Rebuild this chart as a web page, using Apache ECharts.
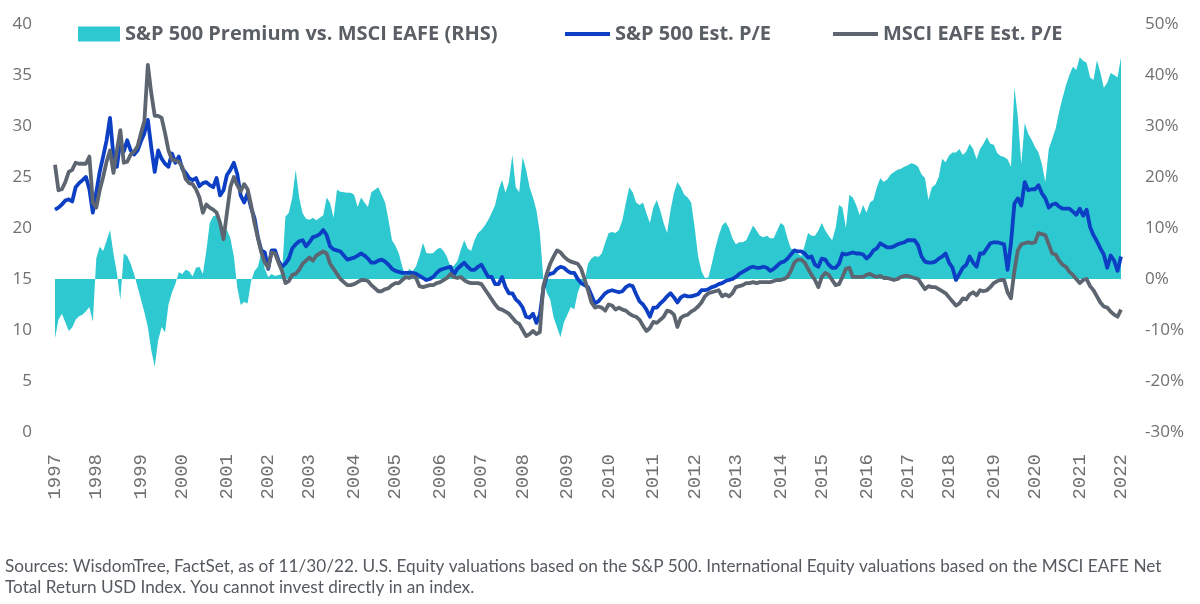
<!DOCTYPE html>
<html>
<head>
<meta charset="utf-8">
<script src="https://cdn.jsdelivr.net/npm/echarts@6/dist/echarts.min.js"></script>
<style>
html,body{margin:0;padding:0;background:#fff;}
#chart{width:1200px;height:604px;}
</style>
</head>
<body>
<div id="chart"></div>
<script>
// Tick labels for the x axis
const yearLabels = ['1997','1998','1999','2000','2001','2002','2003','2004','2005','2006','2007','2008','2009',
  '2010','2011','2012','2013','2014','2015','2016','2017','2018','2019','2020','2021','2022'];

// Monthly categories, Jan 1997 .. Nov 2022
const months = [];
for (let y = 1997; y <= 2022; y++) {
  for (let m = 1; m <= 12; m++) {
    if (y === 2022 && m > 11) break;
    months.push(y + '-' + String(m).padStart(2, '0'));
  }
}

// S&P 500 premium vs. MSCI EAFE (%), right axis
const premium = [
  -11.6,-8.0,-6.8,-8.5,-10.2,-9.5,-8.0,-7.3,-7.0,-6.3,-5.5,-8.4,
  4.0,6.3,5.5,7.5,9.6,5.0,1.2,-4.1,5.0,4.5,3.0,1.0,
  -1.5,-4.0,-6.5,-9.4,-14.0,-17.2,-12.0,-9.4,-10.5,-5.0,-2.7,-1.0,
  1.3,1.0,1.8,1.5,0.5,2.2,2.4,1.0,5.5,11.0,12.3,12.5,
  11.5,10.0,9.6,8.0,4.5,-1.6,-5.1,-4.5,-4.8,-0.5,1.5,2.4,
  5.1,2.0,0.4,1.0,0.6,0.8,1.0,12.2,13.0,16.0,21.4,16.0,
  12.9,11.8,11.6,12.0,11.5,12.0,12.5,16.0,14.9,12.0,17.5,17.1,
  17.0,16.9,16.9,16.5,14.1,16.0,15.0,14.1,17.0,17.5,18.0,16.5,
  15.0,11.5,7.6,6.5,5.0,2.4,0.5,2.0,1.5,2.5,4.5,7.1,
  5.1,5.0,5.1,5.8,6.2,5.5,4.3,2.4,2.6,3.5,5.7,7.6,
  6.0,5.5,7.6,9.0,9.6,10.5,11.6,13.0,14.5,17.5,19.4,16.9,
  19.0,24.3,18.0,17.0,23.9,21.4,18.0,16.0,13.5,9.0,0.2,-2.7,
  -4.0,-7.5,-9.5,-11.4,-8.5,-7.0,-5.5,-6.0,-2.7,-1.0,-0.5,3.0,
  4.0,4.5,4.3,5.0,7.1,9.0,9.2,9.0,9.6,11.5,14.9,18.0,
  17.0,15.0,14.5,15.0,12.9,11.0,14.0,15.5,13.5,11.0,9.0,13.5,
  16.9,19.0,18.0,16.5,16.0,15.0,10.2,4.5,1.5,0.2,0.3,3.0,
  6.0,8.5,10.5,11.2,10.0,8.0,6.8,7.2,7.2,7.6,9.0,10.5,
  9.5,8.5,8.2,8.5,8.0,8.0,9.5,11.0,10.5,8.0,6.0,5.7,
  5.0,4.5,6.5,9.0,8.5,8.5,9.5,11.0,9.5,8.5,7.6,10.0,
  14.5,14.0,10.0,16.5,16.0,14.5,12.5,14.5,13.0,15.0,15.5,18.0,
  19.8,19.0,19.5,20.5,21.0,21.4,21.6,22.0,22.3,22.7,22.5,22.0,
  20.5,19.8,15.5,18.0,18.5,20.0,23.6,22.9,24.2,24.8,24.8,25.5,
  24.3,25.0,26.5,25.5,23.5,25.5,26.5,27.8,26.5,26.3,24.7,24.1,
  23.9,23.5,22.0,37.6,31.8,22.5,30.6,28.5,27.3,25.9,24.8,22.5,
  19.0,25.5,27.5,29.5,32.8,35.5,38.0,40.0,41.6,41.0,43.5,42.8,
  42.4,39.5,39.0,42.9,40.5,37.5,38.5,40.4,40.0,39.5,43.5
];

// S&P 500 estimated P/E, left axis
const spxPE = [
  21.8,22.0,22.3,22.7,22.8,22.6,24.0,24.4,24.7,25.0,23.8,21.5,
  23.5,25.5,27.0,28.6,30.8,27.0,26.0,28.5,27.5,28.6,27.6,27.2,
  27.6,28.5,29.3,30.6,27.9,25.5,27.6,26.8,26.3,26.0,27.3,26.4,
  27.0,25.8,25.4,24.9,24.7,24.9,24.1,24.4,24.5,24.2,24.0,24.9,
  23.2,23.7,25.2,25.7,26.4,25.3,23.2,22.5,23.4,22.0,21.0,19.1,
  17.8,17.6,16.0,17.8,17.8,16.8,16.2,16.5,17.0,18.0,18.4,18.7,
  18.8,18.2,18.6,19.1,19.2,19.4,19.8,19.3,18.2,17.9,17.8,17.7,
  17.3,16.9,17.0,17.1,17.3,17.5,17.3,17.0,16.6,16.6,16.8,16.9,
  16.7,16.4,16.0,15.8,15.7,15.6,15.6,15.6,15.6,15.5,15.3,15.1,
  14.9,15.0,15.2,15.6,15.9,16.0,16.1,16.2,15.4,16.0,16.3,16.6,
  16.2,15.9,15.9,16.2,16.4,15.8,15.2,15.2,14.5,14.5,15.2,14.2,
  13.6,13.6,13.0,12.7,12.2,11.3,11.2,11.6,10.7,11.5,14.0,15.3,
  15.5,15.6,16.0,16.2,16.1,15.8,15.6,15.6,15.0,14.6,14.4,14.2,
  13.4,12.6,12.8,13.2,13.6,13.8,13.9,13.8,13.7,13.8,14.2,14.4,
  14.3,13.5,12.8,12.5,12.0,11.3,12.2,12.2,12.6,12.9,13.3,13.6,
  13.2,12.7,13.2,13.4,13.3,13.3,13.4,13.5,13.9,13.9,14.0,14.2,
  14.3,14.5,14.6,14.8,14.9,15.0,15.2,15.5,15.7,15.9,16.1,16.2,
  16.1,16.1,16.2,16.1,15.8,16.0,16.3,16.6,16.7,17.0,17.4,17.8,
  17.7,17.7,17.5,17.1,17.2,16.4,16.2,17.0,16.9,16.4,16.1,16.1,
  16.5,17.5,17.4,17.5,17.6,17.5,17.5,17.4,17.0,17.3,17.8,18.0,
  18.5,18.3,18.1,18.1,18.2,18.4,18.5,18.6,18.8,18.8,18.8,18.3,
  17.2,16.7,16.6,16.6,16.7,17.0,17.2,17.5,16.6,16.1,14.9,15.5,
  16.1,16.4,17.2,16.6,16.2,17.5,17.5,18.0,18.5,18.6,18.6,18.5,
  18.4,15.9,18.5,22.4,22.9,22.2,24.5,23.7,23.8,23.8,24.2,23.4,
  22.9,22.0,22.3,22.4,22.1,21.9,21.9,21.9,21.6,21.3,21.9,21.2,
  21.8,20.1,19.3,18.7,18.0,17.4,16.1,17.3,16.8,15.8,17.2
];

// MSCI EAFE estimated P/E, left axis
const eafePE = [
  26.2,23.7,23.8,24.5,25.5,25.7,26.4,26.3,26.3,26.3,27.0,22.5,
  22.0,23.7,25.0,26.5,27.6,25.4,27.6,29.6,26.4,26.5,27.2,27.5,
  28.0,29.3,30.5,36.0,33.2,31.0,31.0,30.8,29.3,27.6,26.7,26.6,
  26.5,26.0,24.8,24.4,24.3,23.8,23.0,21.5,22.3,22.0,21.8,21.5,
  20.5,18.9,21.5,24.0,25.0,24.2,23.6,24.3,23.8,22.3,20.5,19.0,
  17.6,16.6,16.1,17.6,17.5,16.6,15.8,14.6,14.8,15.4,15.5,15.9,
  16.5,16.8,17.1,16.8,17.3,17.5,17.7,17.5,16.5,16.0,15.5,15.0,
  14.7,14.4,14.4,14.5,14.7,14.9,14.9,14.8,14.4,14.1,13.8,13.8,
  14.0,14.1,14.4,14.6,14.6,14.9,15.2,15.1,15.3,15.1,14.3,14.2,
  14.3,14.4,14.4,14.6,14.7,14.9,15.1,15.5,15.2,15.1,15.2,14.9,
  14.7,14.6,14.6,14.6,14.5,14.0,13.5,13.0,12.5,12.1,12.0,11.8,
  11.6,11.2,10.8,10.6,10.0,9.4,9.6,9.9,9.6,9.8,14.3,15.5,
  16.5,17.2,17.8,17.6,17.2,16.9,16.7,16.6,16.5,16.0,15.0,13.9,
  12.7,12.2,12.3,12.2,11.9,12.5,12.4,12.0,12.2,12.0,11.9,11.6,
  11.4,11.3,11.0,10.4,9.9,10.2,10.8,10.7,11.0,11.3,11.9,11.8,
  11.5,10.3,11.2,11.4,11.5,11.8,12.0,12.3,12.7,13.3,13.6,13.7,
  13.8,13.9,13.3,13.5,13.3,13.6,14.2,14.3,14.4,14.6,14.6,14.7,
  14.6,14.7,14.7,14.7,14.7,14.8,14.9,14.9,15.0,15.2,15.8,16.6,
  16.9,16.9,16.6,16.0,15.4,14.9,14.2,15.2,15.6,15.4,14.9,14.4,
  14.5,15.2,16.0,16.1,15.2,15.2,15.2,15.2,15.4,15.5,15.3,15.2,
  15.3,15.1,15.1,15.0,14.9,15.0,15.2,15.3,15.3,15.2,15.1,15.0,
  14.5,14.0,14.3,14.2,14.2,14.0,13.8,13.6,13.2,12.8,12.4,12.6,
  13.1,13.0,13.5,13.7,13.4,13.9,13.8,13.9,14.2,14.6,14.8,14.9,
  14.9,13.7,13.1,15.8,17.8,18.4,18.5,18.6,18.5,18.6,19.5,19.4,
  19.3,18.4,17.5,17.4,16.8,16.4,16.2,15.7,15.4,15.0,14.6,14.9,
  15.0,14.3,13.9,13.3,12.7,12.3,12.2,11.8,11.5,11.3,12.0
];

const seriesNames = ['S&P 500 Premium vs. MSCI EAFE (RHS)', 'S&P 500 Est. P/E', 'MSCI EAFE Est. P/E'];
const colors = { teal: '#2ec8d0', blue: '#0c3fc4', gray: '#5d6570' };

// Year labels spread evenly over the category range
const labelIdx = yearLabels.map((_, k) => Math.round(k * (months.length - 1) / (yearLabels.length - 1)));

const legendText = { color: '#5a5f66', fontWeight: 'bold', fontSize: 20, fontFamily: "'Open Sans'", lineHeight: 22 };
const axisFont = { color: '#707070', fontSize: 17, fontFamily: "'Open Sans'" };

const chart = echarts.init(document.getElementById('chart'), null, { renderer: 'canvas' });
chart.setOption({
  animation: false,
  backgroundColor: '#ffffff',
  grid: { left: 55, right: 79, top: 24, bottom: 172, containLabel: false },
  legend: [
    { left: 78, top: 23, padding: 0, icon: 'rect', itemWidth: 42, itemHeight: 15, data: [seriesNames[0]], textStyle: legendText, selectedMode: false },
    { left: 565, top: 23, padding: 0, icon: 'rect', itemWidth: 45, itemHeight: 4, data: [seriesNames[1]], textStyle: legendText, selectedMode: false },
    { left: 833, top: 23, padding: 0, icon: 'rect', itemWidth: 45, itemHeight: 4, data: [seriesNames[2]], textStyle: legendText, selectedMode: false }
  ],
  xAxis: {
    type: 'category',
    data: months,
    boundaryGap: false,
    axisLine: { show: false },
    axisTick: { show: false },
    splitLine: { show: false },
    axisLabel: {
      rotate: 90,
      margin: 22,
      interval: (idx) => labelIdx.indexOf(idx) !== -1,
      formatter: (val, idx) => yearLabels[labelIdx.indexOf(idx)],
      color: '#707070',
      fontSize: 19,
      fontFamily: "'Liberation Mono', 'DejaVu Sans Mono', monospace"
    }
  },
  yAxis: [
    {
      type: 'value', min: 0, max: 40, interval: 5, position: 'left',
      axisLine: { show: false }, axisTick: { show: false }, splitLine: { show: false },
      axisLabel: Object.assign({ margin: 23 }, axisFont)
    },
    {
      type: 'value', min: -30, max: 50, interval: 10, position: 'right',
      axisLine: { show: false }, axisTick: { show: false }, splitLine: { show: false },
      axisLabel: Object.assign({ margin: 24, formatter: '{value}%' }, axisFont)
    }
  ],
  series: [
    {
      name: seriesNames[0], type: 'line', yAxisIndex: 1, data: premium,
      symbol: 'none', z: 1,
      itemStyle: { color: colors.teal },
      lineStyle: { width: 0, color: colors.teal },
      areaStyle: { color: colors.teal, opacity: 1, origin: 0 }
    },
    {
      name: seriesNames[1], type: 'line', yAxisIndex: 0, data: spxPE,
      symbol: 'none', z: 2,
      itemStyle: { color: colors.blue },
      lineStyle: { width: 3.8, color: colors.blue, join: 'round' }
    },
    {
      name: seriesNames[2], type: 'line', yAxisIndex: 0, data: eafePE,
      symbol: 'none', z: 3,
      itemStyle: { color: colors.gray },
      lineStyle: { width: 3.8, color: colors.gray, join: 'round' }
    }
  ],
  graphic: [
    { type: 'text', left: 5, top: 558, style: { text: 'Sources: WisdomTree, FactSet, as of 11/30/22. U.S. Equity valuations based on the S&P 500. International Equity valuations based on the MSCI EAFE Net', fill: '#555a60', font: '17.2px Lato' } },
    { type: 'text', left: 5, top: 579, style: { text: 'Total Return USD Index. You cannot invest directly in an index.', fill: '#555a60', font: '17.2px Lato' } }
  ]
});
</script>
</body>
</html>
